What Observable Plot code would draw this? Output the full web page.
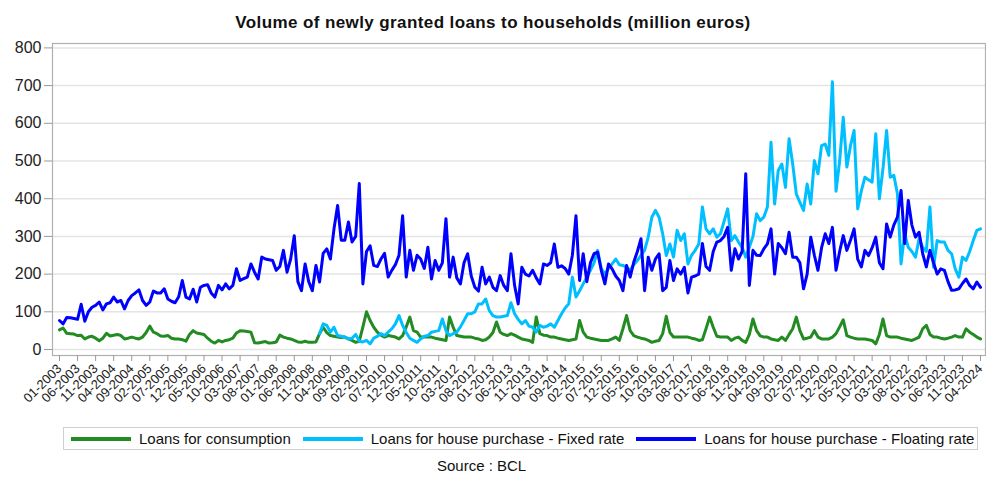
<!DOCTYPE html>
<html><head><meta charset="utf-8">
<script src="https://cdn.jsdelivr.net/npm/d3@7"></script>
<script src="https://cdn.jsdelivr.net/npm/@observablehq/plot@0.6"></script>
<style>
body{margin:0;background:#fff;font-family:"Liberation Sans",Arial,sans-serif;color:#111;}
#wrap{width:986px;height:504px;position:relative;overflow:hidden;}
#title{position:absolute;top:13px;left:0;width:986px;text-align:center;font-weight:bold;font-size:17px;letter-spacing:0.4px;}
#chart{position:absolute;top:36px;left:0;}
#legend{position:absolute;top:427px;left:63px;width:915px;height:23px;border:1px solid #cfcfcf;box-sizing:border-box;display:flex;align-items:center;font-size:15px;white-space:nowrap;}
#legend .it{display:flex;align-items:center;margin-left:7px;margin-right:5px;}
#legend .sw{width:60px;height:4px;margin-right:8px;}
#source{position:absolute;top:457px;left:437px;font-size:15px;white-space:nowrap;}
</style></head>
<body>
<div id="wrap">
<div id="title">Volume of newly granted loans to households (million euros)</div>
<div id="chart"></div>
<div id="legend"></div>
<div id="source">Source : BCL</div>
</div>
<script>
const startYear = 2003, startMonth = 1;
const seriesNames = ["Loans for consumption", "Loans for house purchase - Fixed rate", "Loans for house purchase - Floating rate"];
const seriesColors = ["#228B22", "#00BFFF", "#0000FF"];
const yTicks = [0, 100, 200, 300, 400, 500, 600, 700, 800];
const tickLabels = ["01-2003","06-2003","11-2003","04-2004","09-2004","02-2005","07-2005","12-2005","05-2006","10-2006","03-2007","08-2007","01-2008","06-2008","11-2008","04-2009","09-2009","02-2010","07-2010","12-2010","05-2011","10-2011","03-2012","08-2012","01-2013","06-2013","11-2013","04-2014","09-2014","02-2015","07-2015","12-2015","05-2016","10-2016","03-2017","08-2017","01-2018","06-2018","11-2018","04-2019","09-2019","02-2020","07-2020","12-2020","05-2021","10-2021","03-2022","08-2022","01-2023","06-2023","11-2023","04-2024"];

const consumption = [
52,57,43,42,41,37,38,28,33,35,30,23,
30,43,36,38,40,37,28,30,33,30,28,33,
45,62,46,42,36,35,37,30,28,28,26,22,
40,50,44,42,40,30,22,17,24,20,24,26,
30,44,50,49,48,46,18,17,19,21,17,18,
20,38,33,30,28,24,20,19,22,19,19,20,
42,59,45,37,35,33,32,33,28,24,19,22,
60,100,77,59,46,38,33,37,35,33,28,37,
60,86,50,46,33,33,33,33,30,28,26,24,
86,59,37,35,33,33,33,30,28,24,26,33,
45,73,46,40,37,42,38,33,28,26,24,19,
86,42,38,37,33,33,30,28,26,24,26,28,
77,46,33,30,28,26,24,24,24,28,33,24,
55,90,50,37,33,30,28,24,19,22,24,42,
88,45,33,33,33,33,33,30,28,24,26,55,
86,59,35,33,33,33,24,30,33,24,19,40,
81,50,36,33,33,28,26,24,33,24,40,55,
86,50,28,30,33,50,33,28,28,28,33,42,
60,79,37,33,30,28,28,28,26,24,15,40,
81,37,33,33,33,30,28,26,24,28,33,55,
64,40,33,33,30,28,30,33,37,33,33,55,
46,40,33,28];

const fixedRate = [
null,null,null,null,null,null,null,null,null,null,null,null,
null,null,null,null,null,null,null,null,null,null,null,null,
null,null,null,null,null,null,null,null,null,null,null,null,
null,null,null,null,null,null,null,null,null,null,null,null,
null,null,null,null,null,null,null,null,null,null,null,null,
null,null,null,null,null,null,null,null,null,null,null,null,
42,68,64,46,59,37,35,33,28,30,40,22,
20,24,15,30,35,42,37,46,55,68,90,64,
45,30,24,19,28,35,37,46,48,50,81,50,
37,42,46,60,77,95,95,100,121,121,134,103,
90,86,86,88,90,124,95,80,68,77,62,59,
46,64,59,62,68,59,77,95,110,121,192,139,
156,174,192,210,230,263,215,200,215,227,240,225,
223,218,210,225,236,250,263,298,351,369,351,307,
249,280,245,316,289,307,227,250,263,280,378,320,
307,320,298,307,340,373,289,302,285,271,245,271,
300,360,342,351,378,550,386,475,492,430,559,492,
413,390,369,439,386,501,466,541,545,515,710,420,
500,616,484,540,581,373,420,457,450,444,572,400,
480,581,457,462,413,227,307,271,260,245,294,271,
260,378,218,289,285,285,263,254,214,192,245,236,
260,289,316,320];

const floatingRate = [
77,68,85,84,82,80,120,75,100,112,117,126,
105,121,124,139,126,130,108,130,143,150,158,130,
117,126,155,150,150,161,134,128,124,140,183,139,
134,160,126,165,170,172,150,139,170,158,174,161,
170,214,183,188,192,227,205,187,245,240,238,236,
210,220,263,205,240,302,180,156,227,180,156,223,
179,255,267,240,320,382,290,290,338,285,300,440,
174,260,275,223,220,240,255,192,210,225,250,355,
192,263,210,250,240,215,271,187,236,210,230,347,
192,245,190,174,230,254,195,165,155,218,174,192,
165,156,196,170,156,254,170,121,218,200,195,210,
190,174,227,223,230,280,218,222,215,200,250,355,
183,254,180,230,254,258,210,174,227,214,195,183,
156,223,192,232,260,294,156,245,210,240,254,156,
165,236,183,214,200,218,150,192,195,200,281,220,
210,260,285,289,300,324,210,267,240,260,466,170,
263,250,249,267,280,320,200,281,270,254,311,245,
245,230,161,200,298,250,210,270,307,281,324,210,
260,302,263,290,320,240,219,263,249,270,298,230,
214,333,298,330,351,422,281,395,330,298,311,254,
219,263,230,200,214,210,180,157,158,161,175,187,
170,161,179,165];

const months = consumption.map((_, i) => {
  const m = (startMonth - 1 + i) % 12 + 1;
  const y = startYear + Math.floor((startMonth - 1 + i) / 12);
  return String(m).padStart(2, "0") + "-" + y;
});
const rows = months.map((m, i) => ({m, cons: consumption[i], fixed: fixedRate[i], floating: floatingRate[i]}));

const chart = Plot.plot({
  width: 986, height: 384,
  marginTop: 7, marginBottom: 65, marginLeft: 52, marginRight: 1,
  style: {fontFamily: "Liberation Sans, Arial, sans-serif", color: "#222", background: "#fff"},
  x: {type: "point", domain: months, padding: 0, insetLeft: 7, insetRight: 5},
  y: {domain: [0, 800], insetTop: 4.4, insetBottom: 6},
  marks: [
    Plot.ruleY(yTicks, {stroke: "#e4e4e4", strokeWidth: 1.5}),
    Plot.frame({stroke: "#b0b0b0", strokeWidth: 1.2}),
    Plot.axisY(yTicks, {tickSize: 8, tickPadding: 3, fontSize: 16, label: null, stroke: "#999"}),
    Plot.axisX(tickLabels, {tickRotate: -45, tickSize: 6, tickPadding: 5, fontSize: 13, label: null, stroke: "#999"}),
    Plot.line(rows, {x: "m", y: "cons", stroke: seriesColors[0], strokeWidth: 3}),
    Plot.line(rows, {x: "m", y: "fixed", stroke: seriesColors[1], strokeWidth: 3}),
    Plot.line(rows, {x: "m", y: "floating", stroke: seriesColors[2], strokeWidth: 3})
  ]
});
document.getElementById("chart").appendChild(chart);

const legend = document.getElementById("legend");
seriesNames.forEach((name, k) => {
  const it = document.createElement("div");
  it.className = "it";
  const sw = document.createElement("div");
  sw.className = "sw";
  sw.style.background = seriesColors[k];
  const tx = document.createElement("span");
  tx.textContent = name;
  it.appendChild(sw); it.appendChild(tx);
  legend.appendChild(it);
});
</script>
</body></html>
